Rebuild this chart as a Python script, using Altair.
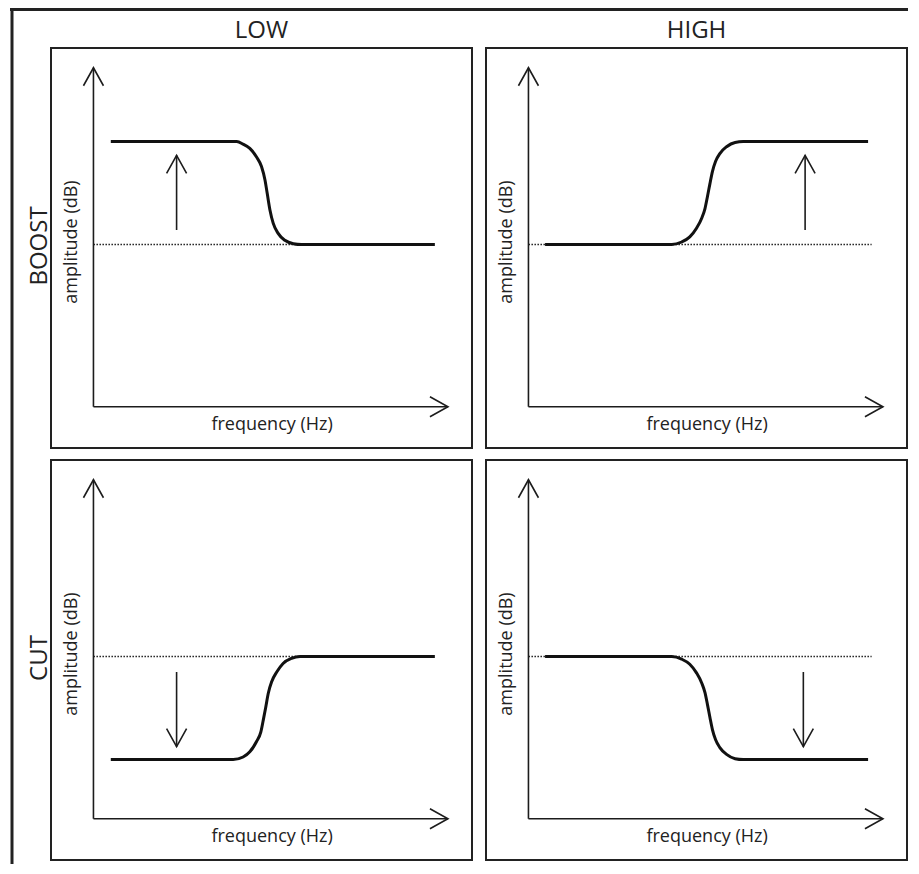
import altair as alt
import pandas as pd

# ---- categories ----
cols = ["LOW", "HIGH"]
rows = ["BOOST", "CUT"]

# ---- shelving curves: frequency position (0 = amplitude axis, 100 = axis arrow tip), amplitude in dB ----
low_boost_x = [4.9, 40.5, 42.3, 44.2, 46.1, 47.5, 48.5, 49.1, 49.9, 50.8, 52.2, 54.1, 56.5, 58.8, 96.5]
low_boost_db = [12.0, 12.0, 11.7, 11.2, 10.2, 9.1, 7.5, 6.0, 4.0, 2.5, 1.3, 0.5, 0.1, 0.0, 0.0]

high_boost_x = [4.7, 40.5, 43.3, 45.6, 47.5, 49.0, 49.9, 50.6, 51.3, 52.0, 52.9, 54.1, 56.0, 58.4, 60.7, 96.0]
high_boost_db = [0.0, 0.0, 0.3, 0.9, 1.9, 3.1, 4.2, 5.6, 7.1, 8.5, 9.7, 10.6, 11.4, 11.9, 12.0, 12.0]

low_cut_x = [4.9, 39.5, 42.3, 44.2, 46.1, 47.3, 48.0, 48.7, 49.4, 50.4, 51.8, 53.6, 56.0, 58.4, 96.5]
low_cut_db = [-12.0, -12.0, -11.7, -11.1, -9.9, -8.8, -7.4, -5.9, -4.3, -2.9, -1.8, -0.8, -0.2, 0.0, 0.0]

high_cut_x = [4.7, 40.5, 43.3, 45.6, 47.5, 49.0, 49.9, 50.6, 51.3, 52.0, 52.9, 54.1, 56.0, 58.4, 60.7, 96.0]
high_cut_db = [0.0, 0.0, -0.3, -0.9, -1.9, -3.1, -4.2, -5.6, -7.1, -8.5, -9.7, -10.6, -11.4, -11.9, -12.0, -12.0]

# ---- per panel (LOW/BOOST, HIGH/BOOST, LOW/CUT, HIGH/CUT) ----
panel_col = ["LOW", "HIGH", "LOW", "HIGH"]
panel_row = ["BOOST", "BOOST", "CUT", "CUT"]
arrow_x = [23.5, 78.2, 23.5, 77.7]
arrow_tail = [1.7, 1.7, -1.8, -1.8]
arrow_tip = [10.4, 10.4, -10.5, -10.5]
arrow_dir = ["up", "up", "down", "down"]
baseline_end = [96.5, 97.0, 96.5, 97.0]

# ---- axes (in data units) ----
freq_axis_y = -18.9
freq_axis_tip = 100.2
amp_axis_tip = 20.6
freq_label_pos = [50.5, -21.6]
amp_label_pos = [-4.7, 0.3]

curves = {
    ("LOW", "BOOST"): (low_boost_x, low_boost_db),
    ("HIGH", "BOOST"): (high_boost_x, high_boost_db),
    ("LOW", "CUT"): (low_cut_x, low_cut_db),
    ("HIGH", "CUT"): (high_cut_x, high_cut_db),
}

recs = []
for i in range(4):
    c, r = panel_col[i], panel_row[i]
    base = dict(col=c, row=r)
    xs, ys = curves[(c, r)]
    for k, (xv, yv) in enumerate(zip(xs, ys)):
        recs.append(dict(base, kind="curve", x=xv, y=yv, ord=k))
    recs.append(dict(base, kind="base", x=0.0, x2=baseline_end[i], y=0.0, y2=0.0))
    recs.append(dict(base, kind="axis", x=0.0, x2=freq_axis_tip, y=freq_axis_y, y2=freq_axis_y))
    recs.append(dict(base, kind="axis", x=0.0, x2=0.0, y=freq_axis_y, y2=amp_axis_tip))
    recs.append(dict(base, kind="axis", x=arrow_x[i], x2=arrow_x[i], y=arrow_tail[i], y2=arrow_tip[i]))
    recs.append(dict(base, kind="head", x=freq_axis_tip, y=freq_axis_y, dir="right"))
    recs.append(dict(base, kind="head", x=0.0, y=amp_axis_tip, dir="up"))
    recs.append(dict(base, kind="head", x=arrow_x[i], y=arrow_tip[i], dir=arrow_dir[i]))
    recs.append(dict(base, kind="flabel", x=freq_label_pos[0], y=freq_label_pos[1]))
    recs.append(dict(base, kind="alabel", x=amp_label_pos[0], y=amp_label_pos[1]))
    if r == rows[0]:
        recs.append(dict(base, kind="collabel", label=c))
    if c == cols[0]:
        recs.append(dict(base, kind="rowlabel", label=r))
recs.append(dict(col="LOW", row="BOOST", kind="frame", x=0.0, y=0.0))
df = pd.DataFrame(recs)

INK = "#1c1c1c"
FONT = "Open Sans"
xs_ = alt.Scale(domain=[-12, 107], nice=False, zero=False)
ys_ = alt.Scale(domain=[-23.7, 22.9], nice=False, zero=False)
X = alt.X("x:Q", scale=xs_, axis=None)
Y = alt.Y("y:Q", scale=ys_, axis=None)

def only(kind):
    return alt.datum.kind == kind

base_line = alt.Chart().mark_rule(strokeDash=[1.5, 1.5], strokeWidth=1.5, color="#222").encode(
    x=X, x2="x2:Q", y=Y).transform_filter(only("base"))
axes = alt.Chart().mark_rule(strokeWidth=1.6, color=INK).encode(
    x=X, x2="x2:Q", y=Y, y2="y2:Q").transform_filter(only("axis"))
heads = alt.Chart().mark_point(filled=False, size=400, strokeWidth=1.6, color=INK, opacity=1).encode(
    x=X, y=Y,
    shape=alt.Shape("dir:N", legend=None, scale=alt.Scale(
        domain=["up", "down", "right"],
        range=["M -1 1.8 L 0 0 L 1 1.8", "M -1 -1.8 L 0 0 L 1 -1.8", "M -1.8 -1 L 0 0 L -1.8 1"]))
).transform_filter(only("head"))
curve = alt.Chart().mark_line(strokeWidth=3, interpolate="monotone", color="#111").encode(
    x=X, y=Y, order="ord:Q").transform_filter(only("curve"))
flabel = alt.Chart().mark_text(text="frequency (Hz)", font=FONT, fontSize=18, color="#222",
                               baseline="alphabetic", align="center").encode(
    x=X, y=Y).transform_filter(only("flabel"))
alabel = alt.Chart().mark_text(text="amplitude (dB)", font=FONT, fontSize=18, color="#222",
                               angle=270, baseline="alphabetic", align="center").encode(
    x=X, y=Y).transform_filter(only("alabel"))
col_label = alt.Chart().mark_text(font=FONT, fontSize=24, color="#222",
                                  baseline="alphabetic", align="center").encode(
    text="label:N", x=alt.value(210.5), y=alt.value(-10)).transform_filter(only("collabel"))
row_label = alt.Chart().mark_text(font=FONT, fontSize=24, color="#222", angle=270,
                                  baseline="alphabetic", align="center").encode(
    text="label:N", x=alt.value(-4.5), y=alt.value(198)).transform_filter(only("rowlabel"))
frame_top = alt.Chart().mark_rule(strokeWidth=3, color="#222").encode(
    x=alt.value(-41), x2=alt.value(857), y=alt.value(-38.5)).transform_filter(only("frame"))
frame_left = alt.Chart().mark_rule(strokeWidth=3, color="#222").encode(
    x=alt.value(-39), y=alt.value(-40), y2=alt.value(816)).transform_filter(only("frame"))

cell = alt.layer(base_line, axes, heads, curve, flabel, alabel, col_label, row_label,
                 frame_top, frame_left, data=df).properties(width=421, height=400)

chart = cell.facet(
    column=alt.Column("col:N", sort=cols, title=None, header=alt.Header(labels=False)),
    row=alt.Row("row:N", sort=rows, title=None, header=alt.Header(labels=False)),
    spacing={"row": 12, "column": 14},
).properties(
    bounds="flush", padding={"top": -3, "left": -1, "right": 0, "bottom": 0}
).configure_view(stroke="#222", strokeWidth=2)

chart.save("out.html", embed_options={"renderer": "svg", "actions": False})
